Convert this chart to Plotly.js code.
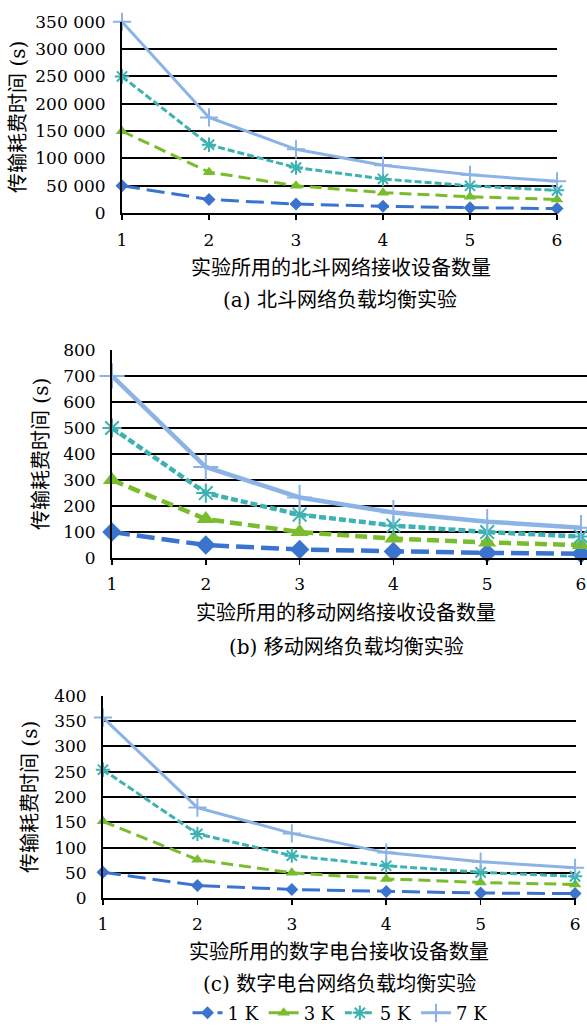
<!DOCTYPE html>
<html>
<head>
<meta charset="utf-8">
<script src="https://cdn.plot.ly/plotly-3.0.1.min.js"></script>
<style>html,body{margin:0;padding:0;background:#fff;}#chart{width:587px;height:1032px;}</style>
</head>
<body>
<div id="chart"></div>
<script>
// ---- data ----
const devices = [1, 2, 3, 4, 5, 6];
const seriesNames = ['1 K', '3 K', '5 K', '7 K'];
const beidou1K = [50000, 25000, 16667, 12500, 10000, 8333];
const beidou3K = [150000, 75000, 50000, 37500, 30000, 25000];
const beidou5K = [250000, 125000, 83333, 62500, 50000, 41667];
const beidou7K = [350000, 175000, 116667, 87500, 70000, 58333];
const mobile1K = [100, 50, 33, 25, 20, 17];
const mobile3K = [300, 150, 100, 75, 60, 50];
const mobile5K = [500, 250, 167, 125, 100, 83];
const mobile7K = [700, 350, 233, 175, 140, 117];
const radio1K = [51, 25, 17, 13, 10, 9];
const radio3K = [152, 76, 50, 38, 31, 27];
const radio5K = [254, 127, 84, 64, 51, 43];
const radio7K = [357, 179, 128, 90, 72, 60];
const yTitle = '传输耗费时间 (s)';
const xTitles = ['实验所用的北斗网络接收设备数量', '实验所用的移动网络接收设备数量', '实验所用的数字电台接收设备数量'];
const captions = ['(a) 北斗网络负载均衡实验', '(b) 移动网络负载均衡实验', '(c) 数字电台网络负载均衡实验'];

// ---- styles ----
const W = 587, H = 1032;
const FONT = 'DejaVu Serif, Noto Sans CJK SC, serif';
const TICK = 17;
const colors = ['#3A74CF', '#79BC2C', '#3EB2B2', '#8BB3E6'];
const dashes = ['18px,7px', '12px,6px', '7px,3px', 'solid'];
const symbols = ['diamond', 'triangle-up', 'asterisk-open', 'cross-thin-open'];
const px = v => v / W;
const py = v => 1 - v / H;

const panels = [
  {sets: [beidou1K, beidou3K, beidou5K, beidou7K], lw: 3, ms: [10, 11, 12, 13], ax: ''},
  {sets: [mobile1K, mobile3K, mobile5K, mobile7K], lw: 4.5, ms: [15, 16, 16, 18], ax: '2'},
  {sets: [radio1K, radio3K, radio5K, radio7K], lw: 3, ms: [10, 11, 12, 13], ax: '3'}
];

const traces = [];
panels.forEach((p, pi) => {
  p.sets.forEach((vals, si) => {
    const open = symbols[si].indexOf('open') >= 0;
    traces.push({
      type: 'scatter', mode: 'lines+markers',
      x: devices, y: vals, name: seriesNames[si],
      xaxis: 'x' + p.ax, yaxis: 'y' + p.ax,
      showlegend: pi === 2,
      cliponaxis: false,
      line: {color: colors[si], width: p.lw, dash: dashes[si]},
      marker: {symbol: symbols[si], size: p.ms[si], color: colors[si],
               line: {width: open ? 2 : 0, color: colors[si]}}
    });
  });
});

function xa(domain, range, anchor) {
  return {domain: domain, range: range, anchor: anchor, tickvals: devices, ticks: 'outside', ticklen: 5,
    tickwidth: 1.5, tickcolor: '#000', showline: true, linecolor: '#000', linewidth: 2,
    showgrid: false, zeroline: false, fixedrange: true, ticklabelstandoff: 5,
    tickfont: {family: FONT, size: TICK, color: '#000'}};
}
function ya(domain, range, dtick, anchor) {
  return {domain: domain, range: range, anchor: anchor, dtick: dtick, tick0: 0, ticks: '',
    showline: true, linecolor: '#000', linewidth: 2, showgrid: true, gridcolor: '#000',
    gridwidth: 2, zeroline: false, fixedrange: true, tickformat: ',d', ticklabelstandoff: 11,
    tickfont: {family: FONT, size: TICK, color: '#000'}};
}

const ann = (text, x, y, extra) => Object.assign({text: text, xref: 'paper', yref: 'paper',
  x: px(x), y: py(y), xanchor: 'center', yanchor: 'middle', showarrow: false,
  font: {family: FONT, size: 20, color: '#000'}}, extra || {});

const layout = {
  width: W, height: H, margin: {l: 0, r: 0, t: 0, b: 0},
  paper_bgcolor: '#fff', plot_bgcolor: '#fff', separators: '. ',
  showlegend: true,
  font: {family: FONT, size: 20, color: '#000'},
  xaxis: xa([px(122), px(557)], [1, 6], 'y'),
  yaxis: ya([py(215), py(22)], [0, 350000], 50000, 'x'),
  xaxis2: xa([px(112), px(587)], [1, 6.064], 'y2'),
  yaxis2: ya([py(563), py(353)], [0, 800], 100, 'x2'),
  xaxis3: xa([px(103), px(576)], [1, 6.01], 'y3'),
  yaxis3: ya([py(906), py(702)], [0, 400], 50, 'x3'),
  legend: {orientation: 'h', x: px(340), xanchor: 'center', y: py(1022), yanchor: 'middle',
    font: {family: FONT, size: 18, color: '#000'}, itemgap: 0, bgcolor: 'rgba(0,0,0,0)'},
  annotations: [
    ann(yTitle, 18, 118, {textangle: -90}),
    ann(yTitle, 41, 458, {textangle: -90}),
    ann(yTitle, 30, 804, {textangle: -90}),
    ann(xTitles[0], 341, 270),
    ann(xTitles[1], 346, 618),
    ann(xTitles[2], 339, 960),
    ann(captions[0], 340, 303),
    ann(captions[1], 346, 653),
    ann(captions[2], 339, 993)
  ]
};

Plotly.newPlot('chart', traces, layout, {staticPlot: true, displayModeBar: false});
</script>
</body>
</html>
